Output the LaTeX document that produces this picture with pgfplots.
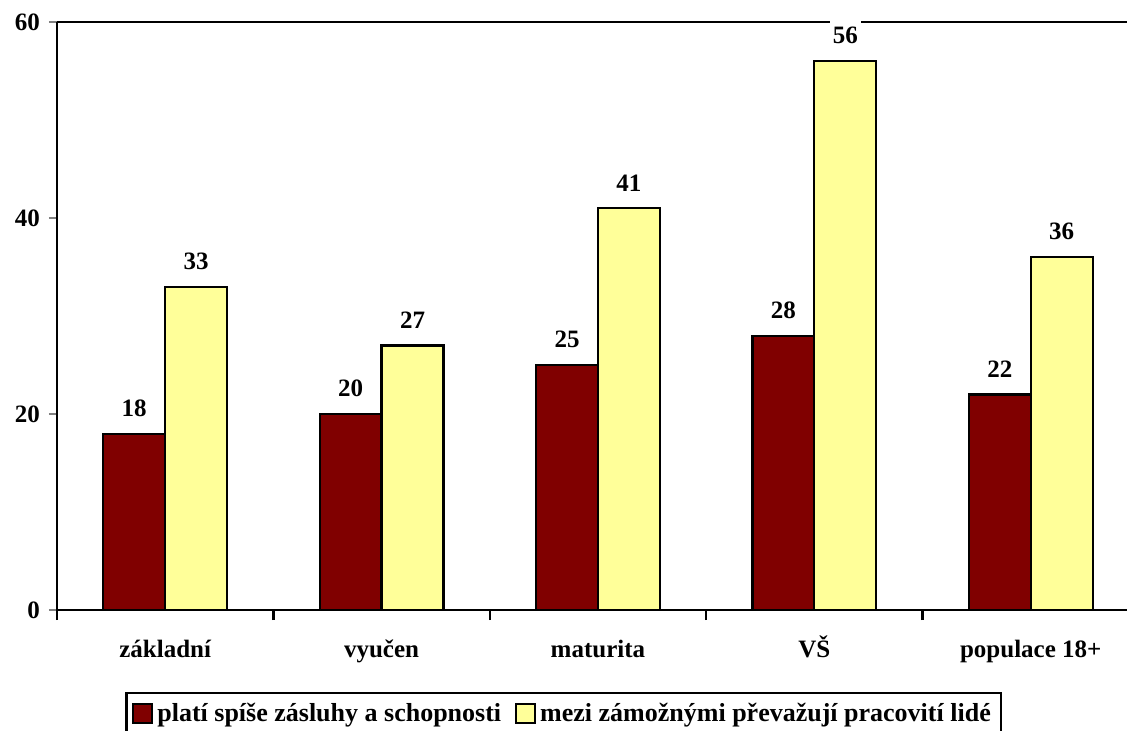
\documentclass[border=0pt]{standalone}
\usepackage{fontspec}
\setmainfont{Liberation Serif}
\usepackage{pgfplots}
\pgfplotsset{compat=1.18}
\definecolor{barred}{HTML}{800000}
\definecolor{baryellow}{HTML}{FFFF99}
\newcommand{\chfont}{\fontsize{12.5}{15}\selectfont\bfseries}
\newcommand{\lgfont}{\fontsize{13}{15.6}\selectfont\bfseries}
\begin{document}
\begin{tikzpicture}
\begin{axis}[
 scale only axis, width=535pt, height=294pt,
 at={(0,0)}, anchor=south west,
 xmin=-0.5, xmax=4.445, ymin=0, ymax=60,
 axis x line*=bottom, axis y line*=left,
 axis line style={line width=1.4pt, -},
 ybar=0pt, bar width=0.286,
 xtick={0,1,2,3,4},
 xticklabels={základní, vyučen, maturita, VŠ, populace 18+},
 x tick label style={font=\chfont, yshift=-7.5pt, text height=8.8pt, text depth=2.5pt},
 xtick style={draw=none},
 extra x ticks={-0.5,0.5,1.5,2.5,3.5},
 extra x tick labels={},
 extra x tick style={xtick style={draw=black, line width=1.2pt}, major tick length=5pt, tick align=outside},
 ytick={0,20,40,60},
 y tick label style={font=\chfont, xshift=-1pt},
 ytick style={line width=1.2pt},
 tick align=outside, major tick length=4pt,
 extra y ticks={60}, extra y tick labels={},
 extra y tick style={grid=major, major grid style={black, line width=1.2pt}, major tick length=0pt},
 /pgf/number format/assume math mode=true,
 nodes near coords,
 every node near coord/.append style={font=\chfont, fill=white, inner xsep=1.5pt, inner ysep=4pt, yshift=4pt},
 legend columns=2,
 legend style={at={(0.4734,-0.1395)}, anchor=north, draw=black, line width=1.2pt, font=\lgfont,
   inner xsep=3pt, inner ysep=3pt, /tikz/every even column/.append style={column sep=5pt}},
 legend image code/.code={\draw[#1, line width=1pt] (0pt,-4.75pt) rectangle (9.5pt,4.75pt);},
]
\addplot[fill=barred, draw=black, line width=1.1pt] coordinates {(0,18) (1,20) (2,25) (3,28) (4,22)};
\addplot[fill=baryellow, draw=black, line width=1.1pt] coordinates {(0,33) (1,27) (2,41) (3,56) (4,36)};
\legend{platí spíše zásluhy a schopnosti, mezi zámožnými převažují pracovití lidé\hspace{5pt}}
\end{axis}
\pgfresetboundingbox
\useasboundingbox (-28.5pt,-60pt) rectangle (535pt,305pt);
\end{tikzpicture}
\end{document}
